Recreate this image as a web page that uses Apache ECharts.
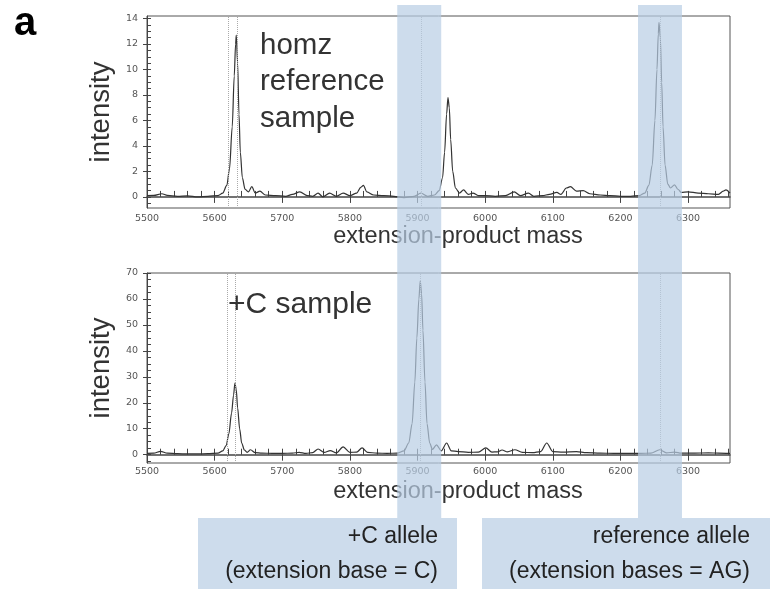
<!DOCTYPE html>
<html><head><meta charset="utf-8">
<script src="https://cdn.jsdelivr.net/npm/echarts@6/dist/echarts.min.js"></script>
<style>html,body{margin:0;padding:0;background:#fff}#c{width:772px;height:589px}</style>
</head><body><div id="c"></div>
<script>
// ---- data: homz reference sample (top trace) ----
const topMass = [5500,5510,5522,5530,5545,5560,5575,5590,5605,5612,5618,5622,5626,5629,5631,5632,5634,5636,5638,5641,5645,5650,5655,5660,5667,5675,5690,5705,5715,5726,5737,5745,5753,5760,5770,5780,5790,5800,5810,5816,5820,5825,5835,5850,5865,5880,5895,5905,5915,5925,5932,5937,5940,5943,5945,5947,5949,5952,5956,5962,5968,5975,5982,5990,6000,6015,6030,6043,6052,6064,6072,6085,6095,6106,6112,6120,6126,6135,6145,6155,6170,6185,6200,6215,6228,6236,6242,6247,6251,6254,6256,6257,6259,6261,6263,6266,6270,6274,6280,6285,6290,6300,6315,6330,6345,6352,6356,6362];
const topIntensity = [0.10,0.12,0.25,0.12,0.05,0.08,0.00,0.05,0.10,0.30,0.90,2.2,5.5,9.5,12.0,12.7,10.5,6.5,3.5,1.5,0.6,0.4,0.8,0.3,0.45,0.15,0.10,0.05,0.2,0.4,0.10,0.05,0.3,0.00,0.3,0.05,0.3,0.10,0.3,0.75,0.9,0.4,0.15,0.10,0.05,-0.05,0.05,0.3,0.05,0.15,0.5,1.5,3.5,6.5,7.8,7.0,4.5,2.0,0.7,0.3,0.55,0.2,0.3,0.10,0.10,0.05,0.10,0.4,0.10,0.3,0.05,0.10,0.2,0.35,0.2,0.7,0.8,0.45,0.5,0.25,0.15,0.10,0.05,0.05,0.10,0.3,0.9,2.5,6.0,10.0,12.8,13.7,12.5,9.0,5.5,2.5,1.0,0.7,0.95,0.6,0.35,0.4,0.3,0.25,0.2,0.45,0.55,0.3];
// ---- data: +C sample (bottom trace) ----
const botMass = [5500,5510,5520,5530,5545,5560,5575,5590,5605,5612,5617,5621,5625,5628,5630,5632,5634,5637,5640,5644,5648,5653,5660,5670,5685,5700,5715,5725,5735,5745,5753,5762,5771,5780,5790,5800,5810,5818,5826,5840,5855,5870,5880,5887,5892,5896,5899,5902,5904,5906,5908,5911,5914,5918,5922,5928,5935,5943,5950,5960,5975,5990,6001,6010,6018,6025,6033,6044,6055,6070,6082,6091,6100,6115,6135,6150,6170,6190,6210,6230,6245,6258,6268,6280,6290,6310,6330,6345,6362];
const botIntensity = [0.5,0.6,1.3,0.6,0.4,0.3,0.3,0.4,0.6,1.5,3.5,8.0,16,23,27.6,25,18,10,4.5,1.8,0.9,1.9,0.8,0.6,0.5,0.5,0.6,0.9,0.5,0.8,2.2,0.9,1.6,0.7,3.0,0.9,1.0,2.6,0.9,0.6,0.5,0.6,1.5,4.5,12,28,45,60,67,62,48,28,12,4.5,2.0,3.8,1.5,4.5,1.5,1.2,0.9,1.0,2.6,1.0,1.1,1.8,1.1,1.9,0.9,0.8,1.2,4.5,1.2,1.0,1.2,0.8,0.6,0.5,0.5,0.5,0.6,1.9,0.7,1.0,0.6,0.6,0.7,0.6,0.5];
// ---- axis ticks ----
const massTicks = [5500,5600,5700,5800,5900,6000,6100,6200,6300];
const massMinorTicks = [5500,5520,5540,5560,5580,5600,5620,5640,5660,5680,5700,5720,5740,5760,5780,5800,5820,5840,5860,5880,5900,5920,5940,5960,5980,6000,6020,6040,6060,6080,6100,6120,6140,6160,6180,6200,6220,6240,6260,6280,6300,6320,6340,6360];
const topYTicks = [0,2,4,6,8,10,12,14];
const topYMinor = [-0.5,0,0.5,1,1.5,2,2.5,3,3.5,4,4.5,5,5.5,6,6.5,7,7.5,8,8.5,9,9.5,10,10.5,11,11.5,12,12.5,13,13.5,14];
const botYTicks = [0,10,20,30,40,50,60,70];
const botYMinor = [-2.5,0,2.5,5,7.5,10,12.5,15,17.5,20,22.5,25,27.5,30,32.5,35,37.5,40,42.5,45,47.5,50,52.5,55,57.5,60,62.5,65,67.5,70];
// dotted guide lines and highlighted allele windows
const topGuides = [5620,5633,5906,6259];
const botGuides = [5619,5631,5904,6259];
const alleleBands = [[5870,5935],[6226,6291]];
const bandLabels = [['+C allele','(extension base = C)'],['reference allele','(extension bases = AG)']];

const pairs = (xs, ys) => xs.map((x, i) => [x, ys[i]]);
const FONT = 'Liberation Sans';
const tickFont = {fontSize: 9.5, color: '#555', fontFamily: 'DejaVu Sans', formatter: v => String(v)};

function xAxes(gi, margin) {
  return [
    {type:'value', gridIndex:gi, min:5500, max:6362, position:'bottom',
     axisLine:{show:true, lineStyle:{color:'#444', width:1.5}},
     axisTick:{show:true, inside:false, length:6, customValues:massTicks, lineStyle:{color:'#444'}},
     axisLabel:Object.assign({customValues:massTicks, margin:margin}, tickFont),
     splitLine:{show:false},
     name:'extension-product mass', nameLocation:'middle', nameGap:17,
     nameTextStyle:{fontSize:23.5, color:'#333', fontFamily:FONT, padding:[0,0,0,39], verticalAlign:'top'}},
    {type:'value', gridIndex:gi, min:5500, max:6362, position:'bottom',
     axisLine:{show:false},
     axisTick:{show:true, inside:true, length:6, customValues:massMinorTicks, lineStyle:{color:'#444'}},
     axisLabel:{show:false}, splitLine:{show:false}}
  ];
}
function yAxes(gi, min, max, ticks, minor) {
  return [
    {type:'value', gridIndex:gi, min:min, max:max, position:'left',
     axisLine:{show:true, lineStyle:{color:'#444', width:1}},
     axisTick:{show:true, inside:false, length:4, customValues:ticks, lineStyle:{color:'#444'}},
     axisLabel:Object.assign({customValues:ticks, margin:9}, tickFont),
     splitLine:{show:false},
     name:'intensity', nameLocation:'middle', nameRotate:90, nameGap:26,
     nameTextStyle:{fontSize:27.5, color:'#333', fontFamily:FONT}},
    {type:'value', gridIndex:gi, min:min, max:max, position:'left',
     axisLine:{show:false},
     axisTick:{show:true, inside:true, length:4, customValues:minor, lineStyle:{color:'#444'}},
     axisLabel:{show:false}, splitLine:{show:false}}
  ];
}
function guideLines(vals) {
  return {silent:true, symbol:['none','none'], label:{show:false},
          lineStyle:{type:'dotted', color:'#aaa', width:1},
          data: vals.map(v => ({xAxis:v}))};
}

const chart = echarts.init(document.getElementById('c'), null, {renderer:'canvas'});
chart.setOption({
  animation:false,
  backgroundColor:'#fff',
  grid:[
    {left:147, right:42, top:16, height:192, show:true, borderColor:'#555', borderWidth:1},
    {left:147, right:42, top:273, height:190, show:true, borderColor:'#555', borderWidth:1}
  ],
  xAxis:[...xAxes(0, 6), ...xAxes(1, 4)],
  yAxis:[...yAxes(0, -0.87, 14.2, topYTicks, topYMinor), ...yAxes(1, -3.2, 70, botYTicks, botYMinor)],
  series:[
    {type:'line', xAxisIndex:0, yAxisIndex:0, data:pairs(topMass, topIntensity), showSymbol:false,
     smooth:0.3, smoothMonotone:'x', lineStyle:{color:'#333', width:1.2}, markLine:guideLines(topGuides)},
    {type:'line', xAxisIndex:2, yAxisIndex:2, data:pairs(botMass, botIntensity), showSymbol:false,
     smooth:0.3, smoothMonotone:'x', lineStyle:{color:'#333', width:1.2}, markLine:guideLines(botGuides)}
  ]
});

// overlay graphics: allele windows spanning both panels, label boxes, annotations
const bandPx = alleleBands.map(b => [chart.convertToPixel({xAxisIndex:0}, b[0]), chart.convertToPixel({xAxisIndex:0}, b[1])]);
const boxes = [{x:198, w:259, right:438}, {x:482, w:288, right:750}];
const graphics = [];
bandPx.forEach(p => graphics.push({type:'rect', z:100, silent:true,
  shape:{x:p[0], y:5, width:p[1]-p[0], height:513}, style:{fill:'rgba(184,205,228,0.7)'}}));
boxes.forEach((b, i) => {
  graphics.push({type:'rect', z:100, silent:true, shape:{x:b.x, y:518, width:b.w, height:71}, style:{fill:'#cddcec'}});
  graphics.push({type:'text', z:101, silent:true, x:b.right, y:554.5,
    style:{text:bandLabels[i].join('\n'), font:'23px "Liberation Sans"', fill:'#222', align:'right', verticalAlign:'middle', lineHeight:35}});
});
graphics.push({type:'text', z:50, silent:true, x:260, y:82,
  style:{text:'homz\nreference\nsample', font:'29.5px "Liberation Sans"', fill:'#333', align:'left', verticalAlign:'middle', lineHeight:36.5}});
graphics.push({type:'text', z:50, silent:true, x:228, y:304.5,
  style:{text:'+C sample', font:'30px "Liberation Sans"', fill:'#333', align:'left', verticalAlign:'middle'}});
graphics.push({type:'text', z:50, silent:true, x:14, y:24,
  style:{text:'a', font:'bold 40px "Liberation Sans"', fill:'#000', align:'left', verticalAlign:'middle'}});
chart.setOption({graphic:graphics});
</script></body></html>
